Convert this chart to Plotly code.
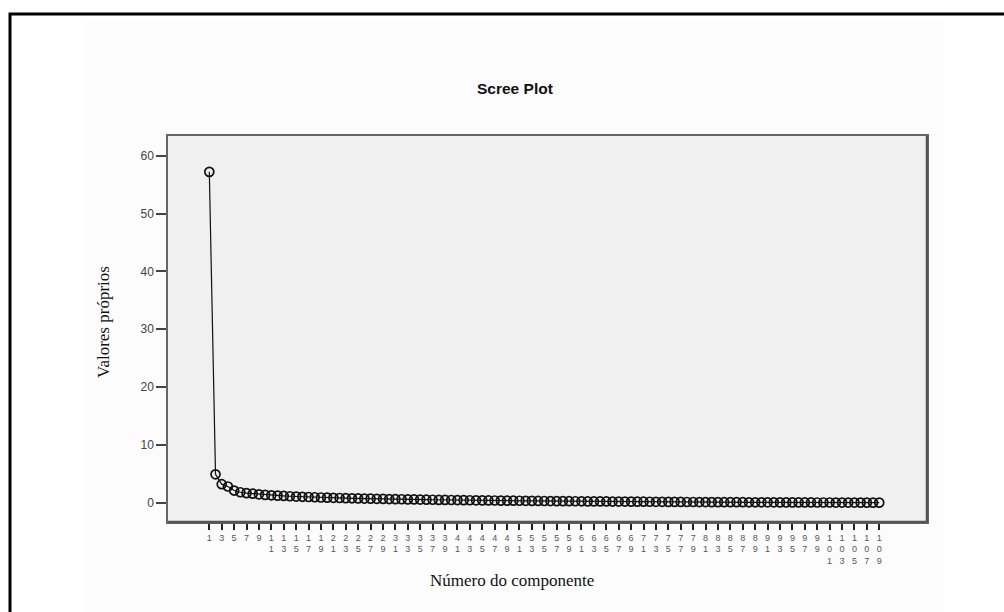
import plotly.graph_objects as go

components = list(range(1, 110))
eigenvalues = [
    57.2, 4.9, 3.2, 2.8, 2.1, 1.8, 1.65, 1.55, 1.45, 1.35,
    1.28, 1.22, 1.16, 1.11, 1.06, 1.02, 0.98, 0.94, 0.90, 0.87,
    0.84, 0.81, 0.78, 0.76, 0.73, 0.71, 0.69, 0.67, 0.65, 0.63,
    0.61, 0.59, 0.57, 0.56, 0.54, 0.52, 0.51, 0.49, 0.48, 0.46,
    0.45, 0.44, 0.42, 0.41, 0.40, 0.39, 0.38, 0.36, 0.35, 0.34,
    0.33, 0.32, 0.31, 0.30, 0.29, 0.28, 0.27, 0.27, 0.26, 0.25,
    0.24, 0.23, 0.22, 0.22, 0.21, 0.20, 0.19, 0.19, 0.18, 0.17,
    0.17, 0.16, 0.15, 0.15, 0.14, 0.14, 0.13, 0.12, 0.12, 0.11,
    0.11, 0.10, 0.10, 0.09, 0.09, 0.08, 0.08, 0.07, 0.07, 0.07,
    0.06, 0.06, 0.05, 0.05, 0.05, 0.04, 0.04, 0.04, 0.03, 0.03,
    0.03, 0.02, 0.02, 0.02, 0.02, 0.01, 0.01, 0.01, 0.01,
]
x_tickvals = list(range(1, 110, 2))
x_ticktext = ["<br>".join(str(v)) for v in x_tickvals]
y_tickvals = [0, 10, 20, 30, 40, 50, 60]

title_text = "Scree Plot"
x_title = "Número do componente"
y_title = "Valores próprios"

W, H = 1004, 612
L, R, T, B = 168, 927, 136, 522
PW, PH = R - L, B - T


def px(x):
    return (x - L) / PW


def py(y):
    return (B - y) / PH


fig = go.Figure()
fig.add_trace(go.Scatter(
    x=components, y=eigenvalues, mode="lines+markers",
    line=dict(color="#111111", width=1.2),
    marker=dict(symbol="circle-open", size=9, color="#111111",
                line=dict(width=1.7, color="#111111")),
    showlegend=False, hoverinfo="x+y",
))

fig.update_layout(
    width=W, height=H,
    margin=dict(l=L, r=W - R, t=T, b=H - B),
    paper_bgcolor="white",
    plot_bgcolor="#f0f0f0",
    font=dict(family="Liberation Sans, Arial, sans-serif", color="#444"),
    xaxis=dict(
        range=[-5.66, 116.7], tickmode="array",
        tickvals=x_tickvals, ticktext=x_ticktext,
        ticks="outside", ticklen=6, tickwidth=1.5, tickcolor="#222",
        tickfont=dict(size=9, color="#555"),
        showgrid=False, zeroline=False,
        showline=True, linecolor="#666", linewidth=1.5, mirror=True,
        tickangle=0,
    ),
    yaxis=dict(
        range=[-3.34, 63.4], tickmode="array", tickvals=y_tickvals,
        ticks="outside", ticklen=10, tickwidth=2, tickcolor="#444",
        tickfont=dict(size=12, color="#444"),
        showgrid=False, zeroline=False,
        showline=True, linecolor="#666", linewidth=1.5, mirror=True,
    ),
    shapes=[
        dict(type="rect", xref="paper", yref="paper",
             x0=px(85), x1=px(943), y0=py(612), y1=py(22),
             fillcolor="#fcfcfc", line=dict(width=0), layer="below"),
        dict(type="rect", xref="x domain", yref="y domain",
             x0=0, x1=1, y0=0, y1=1,
             fillcolor="#f0f0f0", line=dict(width=0), layer="below"),
        dict(type="path", xref="paper", yref="paper",
             path=f"M {px(10)} {py(615)} L {px(10)} {py(14)} L {px(1006)} {py(14)}",
             line=dict(color="black", width=3)),
        dict(type="line", xref="paper", yref="paper",
             x0=px(927), x1=px(927), y0=py(522), y1=py(136),
             line=dict(color="#555", width=2.5)),
        dict(type="line", xref="paper", yref="paper",
             x0=px(168), x1=px(928), y0=py(522), y1=py(522),
             line=dict(color="#555", width=2.5)),
    ],
    annotations=[
        dict(text=f"<b>{title_text}</b>", xref="paper", yref="paper",
             x=px(515), y=py(88), xanchor="center", yanchor="middle",
             showarrow=False,
             font=dict(size=15.5, color="#111",
                       family="Liberation Sans, Arial, sans-serif")),
        dict(text=x_title, xref="paper", yref="paper",
             x=px(512), y=py(580), xanchor="center", yanchor="middle",
             showarrow=False,
             font=dict(size=17, color="#111",
                       family="Liberation Serif, Times New Roman, serif")),
        dict(text=y_title, xref="paper", yref="paper",
             x=px(103), y=py(322), xanchor="center", yanchor="middle",
             showarrow=False, textangle=-90,
             font=dict(size=17, color="#111",
                       family="Liberation Serif, Times New Roman, serif")),
    ],
)

fig.write_html("out.html", config={"displayModeBar": False},
               post_script="document.body.style.margin='0px';")
